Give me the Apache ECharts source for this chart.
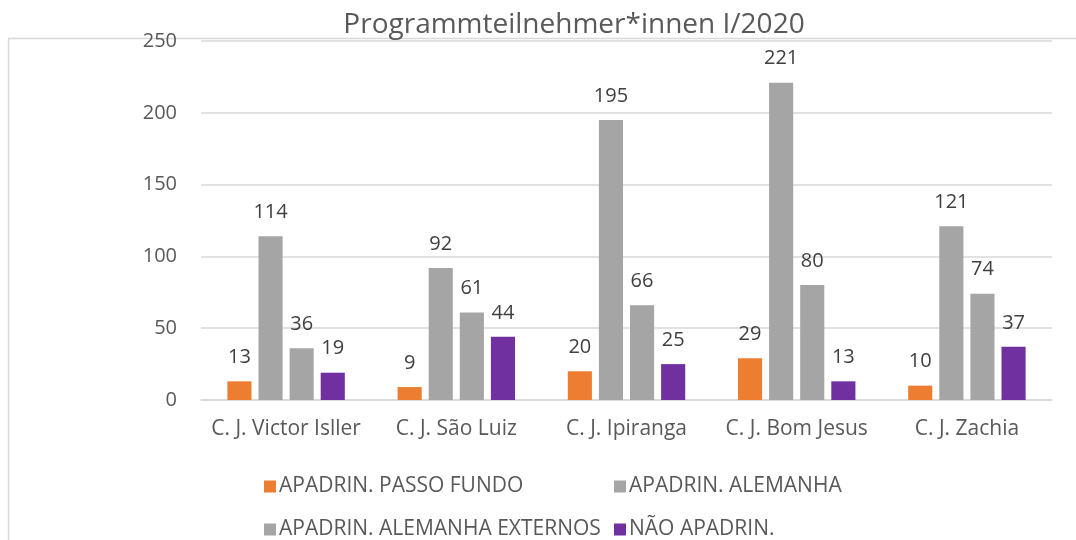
<!DOCTYPE html>
<html><head><meta charset="utf-8">
<script src="https://cdn.jsdelivr.net/npm/echarts@6/dist/echarts.min.js"></script>
<style>html,body{margin:0;padding:0;background:#fff}#c{width:1076px;height:540px}</style>
</head><body><div id="c"></div>
<script>
const title = "Programmteilnehmer*innen I/2020";
const categories = ["C. J. Victor Isller", "C. J. São Luiz", "C. J. Ipiranga", "C. J. Bom Jesus", "C. J. Zachia"];
const seriesNames = ["APADRIN. PASSO FUNDO", "APADRIN. ALEMANHA", "APADRIN. ALEMANHA EXTERNOS", "NÃO APADRIN."];
const passoFundo = [13, 9, 20, 29, 10];
const alemanha = [114, 92, 195, 221, 121];
const alemanhaExternos = [36, 61, 66, 80, 74];
const naoApadrin = [19, 44, 25, 13, 37];
const yTicks = [0, 50, 100, 150, 200, 250];

const colors = ["#ED7D31", "#A5A5A5", "#A5A5A5", "#7030A0"];
const values = [passoFundo, alemanha, alemanhaExternos, naoApadrin];
const FONT = "'Open Sans', sans-serif";

const chart = echarts.init(document.getElementById('c'), null, {renderer: 'canvas'});
const legendCommon = {orient: 'vertical', top: 471, height: 120, itemGap: 22,
  itemWidth: 12, itemHeight: 12, icon: 'rect',
  textStyle: {fontFamily: FONT, fontSize: 21, color: '#595959', padding: [0, 0, 0, -2]}};
chart.setOption({
  animation: false,
  title: {text: title, left: 569, top: 6, textAlign: 'center',
    textStyle: {fontFamily: FONT, fontSize: 28, fontWeight: 'normal', color: '#595959'}},
  graphic: [
    {type: 'line', shape: {x1: 8.5, y1: 38.5, x2: 8.5, y2: 540}, style: {stroke: '#D9D9D9', lineWidth: 1.5}, z: -1},
    {type: 'line', shape: {x1: 8, y1: 38.5, x2: 1076, y2: 38.5}, style: {stroke: '#D9D9D9', lineWidth: 1.5}, z: -1}
  ],
  legend: [
    Object.assign({data: [seriesNames[0], seriesNames[2]], left: 259}, legendCommon),
    Object.assign({data: [seriesNames[1], seriesNames[3]], left: 609}, legendCommon)
  ],
  grid: {left: 201, right: 24, top: 41, bottom: 140, containLabel: false},
  xAxis: {type: 'category', data: categories,
    axisLine: {lineStyle: {color: '#D9D9D9', width: 1.5}}, axisTick: {show: false},
    axisLabel: {interval: 0, fontFamily: FONT, fontSize: 21, color: '#595959', margin: 19}},
  yAxis: {type: 'value', min: yTicks[0], max: yTicks[yTicks.length - 1], interval: 50,
    axisLine: {show: false}, axisTick: {show: false},
    splitLine: {lineStyle: {color: '#D9D9D9', width: 1.5}},
    axisLabel: {fontFamily: FONT, fontSize: 20, color: '#595959', margin: 24}},
  series: seriesNames.map((n, i) => ({
    name: n, type: 'bar', data: values[i], barGap: '29%', barCategoryGap: '31%',
    itemStyle: {color: colors[i]},
    label: {show: true, position: 'top', distance: 14, fontFamily: FONT, fontSize: 20, color: '#404040'}
  }))
});
</script></body></html>
